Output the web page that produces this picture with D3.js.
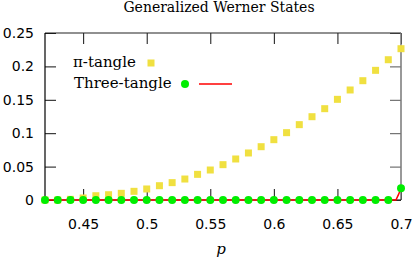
<!DOCTYPE html>
<html>
<head>
<meta charset="utf-8">
<script src="https://cdn.jsdelivr.net/npm/d3@7"></script>
<style>
  html, body { margin: 0; padding: 0; background: #fff; }
</style>
</head>
<body>
<div id="vis"></div>
<script>
// ── CONFIG ─────────────────────────────────────────────────────────────────────
const width        = 415;
const height       = 260;
const marginTop    = 33;
const marginRight  = 14;
const marginBottom = 60;
const marginLeft   = 45;
const tickLen      = 11;

// ── DATA ───────────────────────────────────────────────────────────────────────
const pValues = [0.42, 0.43, 0.44, 0.45, 0.46, 0.47, 0.48, 0.49, 0.50, 0.51,
                 0.52, 0.53, 0.54, 0.55, 0.56, 0.57, 0.58, 0.59, 0.60, 0.61,
                 0.62, 0.63, 0.64, 0.65, 0.66, 0.67, 0.68, 0.69, 0.70];
const piTangle = [0, 0, 0.001, 0.003, 0.0064, 0.0079, 0.010, 0.013, 0.0165, 0.0214,
                  0.026, 0.0314, 0.0384, 0.0449, 0.0529, 0.0614, 0.0704, 0.0798, 0.0903, 0.1008,
                  0.1128, 0.1247, 0.1367, 0.1507, 0.1647, 0.1786, 0.1941, 0.210, 0.2265];
const threeTangle = [0, 0, 0, 0, 0, 0, 0, 0, 0, 0,
                     0, 0, 0, 0, 0, 0, 0, 0, 0, 0,
                     0, 0, 0, 0, 0, 0, 0, 0, 0.0175];
// analytic three-tangle curve (red line)
const curveP     = [0.42, 0.696, 0.698, 0.70];
const curveValue = [0, 0, 0.008, 0.0175];

const xTicks = [0.45, 0.5, 0.55, 0.6, 0.65, 0.7];
const yTicks = [0, 0.05, 0.1, 0.15, 0.2, 0.25];

const yellow = "#f0e040";
const green  = "#00ee00";
const red    = "#ff0000";

// ── SVG ────────────────────────────────────────────────────────────────────────
const svg = d3.select("#vis").append("svg")
    .attr("width", width)
    .attr("height", height)
    .style("display", "block");

const x = d3.scaleLinear([0.42, 0.70], [marginLeft, width - marginRight]);
const y = d3.scaleLinear([0, 0.25], [height - marginBottom, marginTop]);

const fmt = d => d === 0 ? "0" : String(d);
const sans = "DejaVu Sans, sans-serif";
const serif = "DejaVu Serif, Liberation Serif, serif";

// axes: labels on bottom/left, mirrored ticks on top/right
const xAxis = svg.append("g")
    .attr("transform", `translate(0,${y(0)})`)
    .call(d3.axisBottom(x).tickValues(xTicks).tickFormat(fmt).tickSizeInner(-tickLen).tickSizeOuter(0).tickPadding(19));
const xAxisTop = svg.append("g")
    .attr("transform", `translate(0,${y(0.25)})`)
    .call(d3.axisTop(x).tickValues(xTicks).tickFormat("").tickSizeInner(-tickLen).tickSizeOuter(0));
const yAxis = svg.append("g")
    .attr("transform", `translate(${x(0.42)},0)`)
    .call(d3.axisLeft(y).tickValues(yTicks).tickFormat(fmt).tickSizeInner(-tickLen).tickSizeOuter(0).tickPadding(11));
const yAxisRight = svg.append("g")
    .attr("transform", `translate(${x(0.70)},0)`)
    .call(d3.axisRight(y).tickValues(yTicks).tickFormat("").tickSizeInner(-tickLen).tickSizeOuter(0));

[xAxis, xAxisTop, yAxis, yAxisRight].forEach(g => {
  g.select(".domain").remove();
  g.selectAll(".tick line").attr("stroke", "#111");
  g.selectAll("text").attr("font-family", sans).attr("font-size", 14).attr("fill", "#000");
});
yAxisRight.selectAll(".tick line").attr("stroke", "#555");

// border
svg.append("line").attr("x1", x(0.42)).attr("x2", x(0.70)).attr("y1", y(0.25)).attr("y2", y(0.25))
    .attr("stroke", "#222").attr("stroke-width", 1.2);
svg.append("line").attr("x1", x(0.70)).attr("x2", x(0.70)).attr("y1", y(0.25)).attr("y2", y(0))
    .attr("stroke", "#777").attr("stroke-width", 1.5);
svg.append("line").attr("x1", x(0.42)).attr("x2", x(0.42)).attr("y1", y(0.25)).attr("y2", y(0))
    .attr("stroke", "#000").attr("stroke-width", 1.2);
svg.append("line").attr("x1", x(0.42)).attr("x2", x(0.70)).attr("y1", y(0)).attr("y2", y(0))
    .attr("stroke", "#000").attr("stroke-width", 1.2);

// ── SERIES ─────────────────────────────────────────────────────────────────────
const sq = 7;
svg.append("g").selectAll("rect")
  .data(pValues.map((p, i) => [p, piTangle[i]]))
  .join("rect")
    .attr("x", d => x(d[0]) - sq / 2)
    .attr("y", d => y(d[1]) - sq / 2)
    .attr("width", sq)
    .attr("height", sq)
    .attr("fill", yellow);

svg.append("path")
    .datum(curveP.map((p, i) => [p, curveValue[i]]))
    .attr("fill", "none")
    .attr("stroke", red)
    .attr("stroke-width", 1.5)
    .attr("d", d3.line().x(d => x(d[0])).y(d => y(d[1])));

svg.append("g").selectAll("circle")
  .data(pValues.map((p, i) => [p, threeTangle[i]]))
  .join("circle")
    .attr("cx", d => x(d[0]))
    .attr("cy", d => y(d[1]))
    .attr("r", 4)
    .attr("fill", green);

// ── TEXT ───────────────────────────────────────────────────────────────────────
svg.append("text")
    .attr("x", 219).attr("y", 12)
    .attr("text-anchor", "middle")
    .attr("font-family", serif).attr("font-size", 14)
    .text("Generalized Werner States");

svg.append("text")
    .attr("x", 221).attr("y", 254)
    .attr("text-anchor", "middle")
    .attr("font-family", serif).attr("font-size", 15).attr("font-style", "italic")
    .text("p");

// legend
const legend = svg.append("g").attr("font-family", serif).attr("font-size", 15);
legend.append("text").attr("x", 73).attr("y", 66.5).text("π-tangle");
legend.append("rect").attr("x", 151 - sq / 2).attr("y", 63 - sq / 2)
    .attr("width", sq).attr("height", sq).attr("fill", yellow);
legend.append("text").attr("x", 74).attr("y", 87.5).text("Three-tangle");
legend.append("circle").attr("cx", 185).attr("cy", 84).attr("r", 4).attr("fill", green);
legend.append("line").attr("x1", 199).attr("x2", 232).attr("y1", 84).attr("y2", 84)
    .attr("stroke", red).attr("stroke-width", 1.5);
</script>
</body>
</html>
